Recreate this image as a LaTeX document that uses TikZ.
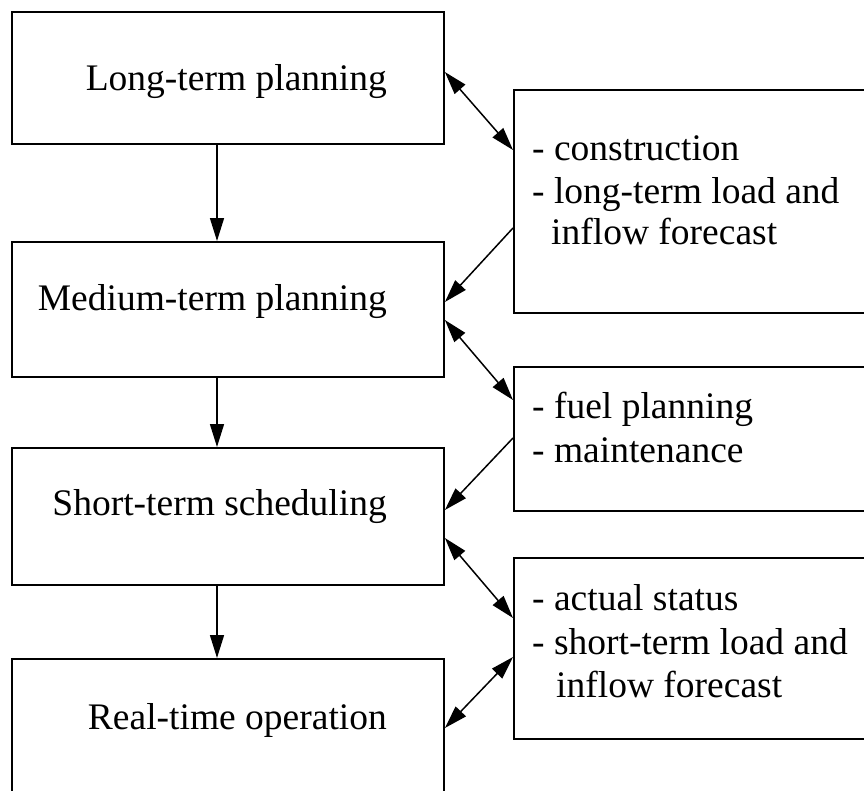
\documentclass[tikz,border=0pt]{standalone}
\usepackage{fontspec}
\setmainfont{Liberation Serif}
\usetikzlibrary{arrows.meta,calc}
\begin{document}
\begin{tikzpicture}[x=1pt,y=-1pt,
  box/.style={draw, line width=1.9pt, rectangle, inner sep=0pt, anchor=north west},
  lbl/.style={inner sep=0pt, font=\fontsize{37.5}{44}\selectfont},
  conn/.style={line width=1.5pt, -{Triangle[length=23pt,width=14pt]}},
  dconn/.style={line width=1.5pt, {Triangle[length=23pt,width=14pt]}-{Triangle[length=23pt,width=14pt]}}
]
\clip (0,0) rectangle (864,790);
\fill[white] (0,0) rectangle (864,790);
% left boxes
\node[box, minimum width=432pt, minimum height=132pt] (L1) at (11,11) {};
\node[box, minimum width=432pt, minimum height=135pt] (L2) at (11,241) {};
\node[box, minimum width=432pt, minimum height=137pt] (L3) at (11,447) {};
\node[box, minimum width=432pt, minimum height=150pt] (L4) at (11,658) {};
% right boxes
\node[box, minimum width=360pt, minimum height=223pt] (R1) at (513,89) {};
\node[box, minimum width=360pt, minimum height=144pt] (R2) at (513,366) {};
\node[box, minimum width=360pt, minimum height=181pt] (R3) at (513,557) {};
% left texts
\node[lbl, anchor=base east] (t1) at (387,90) {Long-term planning};
\node[lbl, anchor=base east] (t2) at (387,310) {Medium-term planning};
\node[lbl, anchor=base east] (t3) at (387,515) {Short-term scheduling};
\node[lbl, anchor=base east] (t4) at (387,729) {Real-time operation};
% right texts
\node[lbl, anchor=base west] (r1a) at (532,160) {- construction};
\node[lbl, anchor=base west] (r1b) at (532,203) {- long-term load and};
\node[lbl, anchor=base west] (r1c) at (551,244) {inflow forecast};
\node[lbl, anchor=base west] (r2a) at (532,418) {- fuel planning};
\node[lbl, anchor=base west] (r2b) at (532,462) {- maintenance};
\node[lbl, anchor=base west] (r3a) at (532,610) {- actual status};
\node[lbl, anchor=base west] (r3b) at (532,654) {- short-term load and};
\node[lbl, anchor=base west] (r3c) at (556,697) {inflow forecast};
% vertical arrows
\draw[conn] (L1.south -| 217,0) -- (L2.north -| 217,0);
\draw[conn] (L2.south -| 217,0) -- (L3.north -| 217,0);
\draw[conn] (L3.south -| 217,0) -- (L4.north -| 217,0);
% diagonal connectors
\draw[dconn] ($(L1.north east)+(0,61)$) -- ($(R1.north west)+(0,61)$);
\draw[conn] ($(R1.north west)+(0,139)$) -- ($(L2.north east)+(0,61)$);
\draw[dconn] ($(L2.north east)+(0,79)$) -- ($(R2.north west)+(0,34)$);
\draw[conn] ($(R2.north west)+(0,72)$) -- ($(L3.north east)+(0,63)$);
\draw[dconn] ($(L3.north east)+(0,91)$) -- ($(R3.north west)+(0,61)$);
\draw[dconn] ($(R3.north west)+(0,100)$) -- ($(L4.north east)+(0,70)$);
\end{tikzpicture}
\end{document}
